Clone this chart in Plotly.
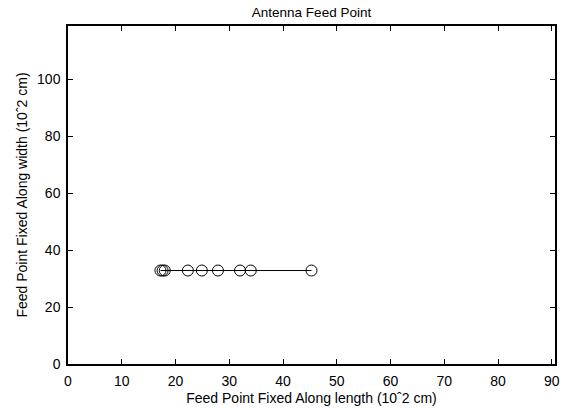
import plotly.graph_objects as go

x_len = [17.2, 17.6, 18.0, 22.3, 24.9, 27.9, 32.0, 34.0, 45.3]
y_wid = [32.8, 32.8, 32.8, 32.8, 32.8, 32.8, 32.8, 32.8, 32.8]
x_ticks = [0, 10, 20, 30, 40, 50, 60, 70, 80, 90]
y_ticks = [0, 20, 40, 60, 80, 100]

font = "Liberation Sans, Arial, sans-serif"
fs = 14

fig = go.Figure()
fig.add_trace(go.Scatter(
    x=x_len, y=y_wid, mode="lines+markers",
    line=dict(color="black", width=1),
    marker=dict(symbol="circle-open", size=11, color="black", line=dict(width=1)),
    showlegend=False,
))

axis_common = dict(
    showgrid=False, zeroline=False, showline=True, linecolor="black", linewidth=1.5,
    mirror="allticks", ticks="inside", ticklen=5, tickwidth=1, tickcolor="black",
    tickfont=dict(family=font, size=fs, color="black"), automargin=False,
)

fig.update_layout(
    width=576, height=408,
    margin=dict(l=68, r=21, t=26, b=44),
    paper_bgcolor="white", plot_bgcolor="white",
    title=dict(text="Antenna Feed Point", x=0.5, xref="paper", y=1 - 12/408, yanchor="middle",
               font=dict(family=font, size=13.5, color="black"), automargin=False),
    xaxis=dict(range=[0, 90.6], tickvals=x_ticks, ticktext=[str(v) for v in x_ticks],
               ticklabelstandoff=3,
               title=dict(text="Feed Point Fixed Along length (10ˆ2 cm)", standoff=6,
                          font=dict(family=font, size=fs, color="black")),
               **axis_common),
    yaxis=dict(range=[0, 118.6], tickvals=y_ticks, ticktext=[str(v) for v in y_ticks],
               ticklabelstandoff=3,
               title=dict(text="Feed Point Fixed Along width (10ˆ2 cm)", standoff=6,
                          font=dict(family=font, size=fs, color="black")),
               **axis_common),
)

fig.write_html("out.html")
